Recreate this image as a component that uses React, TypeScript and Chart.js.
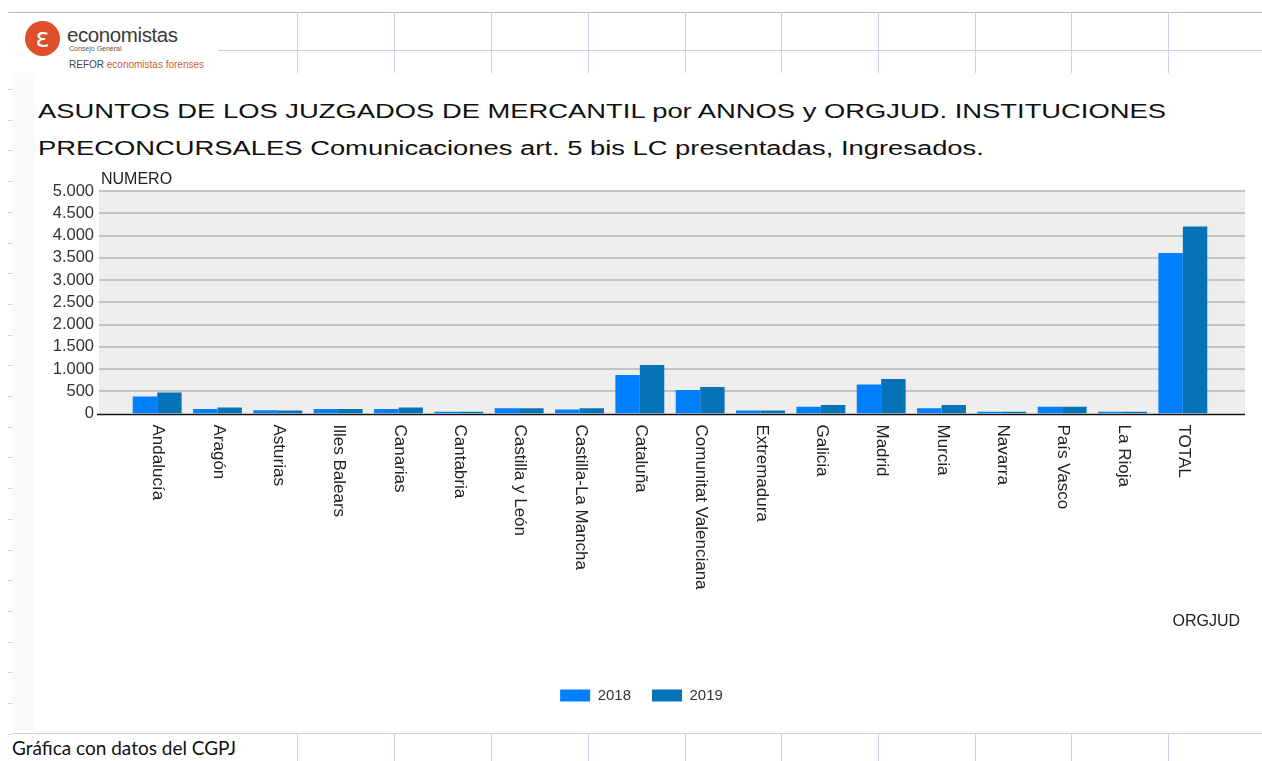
import React, { useEffect, useRef } from "react";
import { Chart, registerables } from "chart.js";

Chart.register(...registerables);

// ---- data ----
const categories = [
  "Andalucía",
  "Aragón",
  "Asturias",
  "Illes Balears",
  "Canarias",
  "Cantabria",
  "Castilla y León",
  "Castilla-La Mancha",
  "Cataluña",
  "Comunitat Valenciana",
  "Extremadura",
  "Galicia",
  "Madrid",
  "Murcia",
  "Navarra",
  "País Vasco",
  "La Rioja",
  "TOTAL",
];
const seriesNames = ["2018", "2019"];
const values2018 = [380, 100, 75, 100, 100, 40, 120, 90, 865, 527, 68, 150, 653, 120, 40, 150, 40, 3604];
const values2019 = [470, 135, 70, 100, 135, 40, 120, 120, 1090, 595, 65, 190, 775, 190, 40, 150, 40, 4205];
const yMin = 0;
const yMax = 5000;
const yStep = 500;
const titleLines = [
  "ASUNTOS DE LOS JUZGADOS DE MERCANTIL por ANNOS y ORGJUD. INSTITUCIONES",
  "PRECONCURSALES Comunicaciones art. 5 bis LC presentadas, Ingresados.",
];
const yAxisTitle = "NUMERO";
const xAxisTitle = "ORGJUD";
const footerText = "Gráfica con datos del CGPJ";

const COLORS = ["#0080ff", "#0673b9"];
const FONT = "'Liberation Sans', Arial, sans-serif";
const sheetCols = [297, 394, 491, 588, 685, 781, 878, 975, 1071, 1168];

const fmt = (v: number) => String(v).replace(/\B(?=(\d{3})+(?!\d))/g, ".");

const decorPlugin = {
  id: "decor",
  beforeDatasetsDraw(chart: any) {
    const { ctx, chartArea, scales } = chart;
    const y = scales.y;
    const left = chartArea.left - 28;
    const right = chartArea.right + 32;
    const top = y.getPixelForValue(yMax);
    const bottom = y.getPixelForValue(yMin);
    ctx.save();
    ctx.fillStyle = "#eeeeee";
    ctx.fillRect(left, top, right - left, bottom - top);
    ctx.strokeStyle = "#c4c4c4";
    ctx.lineWidth = 2;
    y.ticks.forEach((t: any) => {
      if (t.value === yMin) return;
      const py = Math.round(y.getPixelForValue(t.value));
      ctx.beginPath();
      ctx.moveTo(left, py);
      ctx.lineTo(right, py);
      ctx.stroke();
    });
    ctx.restore();
  },
  afterDatasetsDraw(chart: any) {
    const { ctx, chartArea, scales } = chart;
    const x = scales.x;
    const y = scales.y;
    const left = chartArea.left - 30;
    const right = chartArea.right + 32;
    const base = Math.round(y.getPixelForValue(yMin)) + 0.5;
    ctx.save();
    ctx.strokeStyle = "#111";
    ctx.lineWidth = 1.5;
    ctx.beginPath();
    ctx.moveTo(left, base);
    ctx.lineTo(right, base);
    ctx.stroke();

    // rotated category labels
    ctx.fillStyle = "#222";
    ctx.font = `17px ${FONT}`;
    ctx.textAlign = "left";
    ctx.textBaseline = "middle";
    categories.forEach((c, i) => {
      const px = x.getPixelForValue(i);
      ctx.save();
      ctx.translate(px + 1, base + 10);
      ctx.rotate(Math.PI / 2);
      ctx.fillText(c, 0, 0);
      ctx.restore();
    });

    // axis titles
    ctx.font = `16px ${FONT}`;
    ctx.textBaseline = "alphabetic";
    ctx.fillStyle = "#222";
    ctx.textAlign = "left";
    ctx.fillText(yAxisTitle, chartArea.left - 26, y.getPixelForValue(yMax) - 7);
    ctx.textAlign = "right";
    ctx.fillText(xAxisTitle, chartArea.right + 27, base + 211);
    ctx.restore();
  },
};

function BarChart() {
  const ref = useRef<HTMLCanvasElement | null>(null);
  useEffect(() => {
    if (!ref.current) return;
    const chart = new Chart(ref.current, {
      type: "bar",
      data: {
        labels: categories,
        datasets: [
          { label: seriesNames[0], data: values2018, backgroundColor: COLORS[0], borderWidth: 0 },
          { label: seriesNames[1], data: values2019, backgroundColor: COLORS[1], borderWidth: 0 },
        ],
      },
      options: {
        animation: false,
        responsive: false,
        maintainAspectRatio: false,
        layout: { padding: { top: 26, right: 7, left: 0, bottom: 17 } },
        datasets: { bar: { categoryPercentage: 0.81, barPercentage: 1 } },
        scales: {
          x: {
            grid: { display: false },
            border: { display: false },
            ticks: { display: false },
            afterFit: (s: any) => {
              s.height = 253.5;
            },
          },
          y: {
            min: yMin,
            max: yMax,
            grid: { display: false, drawTicks: false },
            border: { display: false },
            ticks: {
              stepSize: yStep,
              autoSkip: false,
              padding: 33,
              color: "#333",
              font: { family: FONT, size: 16.5 },
              callback: (v: any) => fmt(Number(v)),
            },
            afterFit: (s: any) => {
              s.width = 92;
              s.paddingTop = 0;
              s.paddingBottom = 0;
            },
          },
          yRight: {
            type: "linear",
            position: "right",
            display: true,
            grid: { display: false, drawTicks: false },
            border: { display: false },
            ticks: { display: false },
            afterFit: (s: any) => {
              s.width = 35;
            },
          },
        },
        plugins: {
          legend: {
            position: "bottom",
            labels: {
              boxWidth: 30,
              boxHeight: 12,
              padding: 21,
              color: "#333",
              font: { family: FONT, size: 15 },
            },
          },
          tooltip: { enabled: false },
          title: { display: false },
        },
      },
      plugins: [decorPlugin],
    });
    return () => chart.destroy();
  }, []);
  return <canvas ref={ref} width={1220} height={565} style={{ width: 1220, height: 565, display: "block" }} />;
}

export default function App() {
  const lineColor = "#c9d3e3";
  const rowDashes: number[] = [];
  for (let k = 0; k < 22; k++) rowDashes.push(89 + k * 30.7);
  return (
    <div
      style={{
        position: "fixed",
        left: 0,
        top: 0,
        width: 1262,
        height: 761,
        background: "#fff",
        overflow: "hidden",
        fontFamily: FONT,
      }}
    >
      {/* spreadsheet grid pieces */}
      <div style={{ position: "absolute", left: 8, top: 12, width: 1254, height: 1, background: "#aebdd4" }} />
      <div style={{ position: "absolute", left: 218, top: 50, width: 1044, height: 1, background: lineColor }} />
      {sheetCols.map((cx) => (
        <div key={"t" + cx} style={{ position: "absolute", left: cx, top: 12, width: 1, height: 61, background: lineColor }} />
      ))}
      <div style={{ position: "absolute", left: 12, top: 733, width: 1250, height: 1, background: lineColor }} />
      {sheetCols.map((cx) => (
        <div key={"b" + cx} style={{ position: "absolute", left: cx, top: 733, width: 1, height: 28, background: lineColor }} />
      ))}
      <div style={{ position: "absolute", left: 12, top: 73, width: 23, height: 658, background: "#fafafa" }} />
      {rowDashes
        .filter((d) => d < 735)
        .map((d) => (
          <div key={"d" + d} style={{ position: "absolute", left: 8, top: Math.round(d), width: 4, height: 1, background: lineColor }} />
        ))}

      {/* logo */}
      <div
        style={{
          position: "absolute",
          left: 25,
          top: 21,
          width: 35,
          height: 35,
          borderRadius: "50%",
          background: "#df4f2b",
          color: "#fff",
          fontSize: 26,
          lineHeight: "35px",
          textAlign: "center",
          fontFamily: "'DejaVu Sans', sans-serif",
        }}
      >
        ε
      </div>
      <div style={{ position: "absolute", left: 67, top: 23, fontSize: 20.5, color: "#3a3a3a", letterSpacing: -0.4, lineHeight: "24px" }}>
        economistas
      </div>
      <div style={{ position: "absolute", left: 69, top: 45, fontSize: 7, color: "#555", lineHeight: "8px" }}>Consejo General</div>
      <div style={{ position: "absolute", left: 69, top: 59, fontSize: 10, color: "#444", lineHeight: "12px", whiteSpace: "nowrap" }}>
        REFOR <span style={{ color: "#c4623c" }}>economistas forenses</span>
      </div>

      {/* title */}
      <div
        style={{
          position: "absolute",
          left: 38,
          top: 93,
          fontSize: 20,
          lineHeight: "37px",
          color: "#111",
          whiteSpace: "nowrap",
          transform: "scaleX(1.368)",
          transformOrigin: "left top",
        }}
      >
        {titleLines.map((t) => (
          <div key={t}>{t}</div>
        ))}
      </div>

      {/* chart */}
      <div style={{ position: "absolute", left: 35, top: 165 }}>
        <BarChart />
      </div>

      {/* footer */}
      <div
        style={{
          position: "absolute",
          left: 12,
          top: 736,
          fontSize: 19,
          lineHeight: "24px",
          color: "#111",
          fontFamily: "Lato, 'Open Sans', sans-serif",
          whiteSpace: "nowrap",
        }}
      >
        {footerText}
      </div>
    </div>
  );
}
